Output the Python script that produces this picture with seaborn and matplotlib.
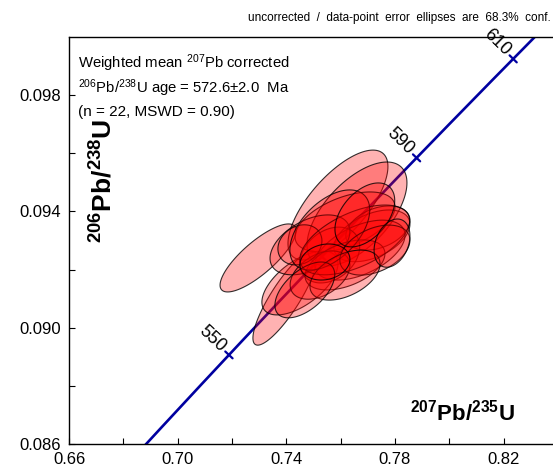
import numpy as np
import matplotlib
matplotlib.use("Agg")
import matplotlib.pyplot as plt
import seaborn as sns

# 同位素比值数据点 (207Pb/235U, 206Pb/238U), 误差椭圆半宽和相关系数
x_ratio = [0.7296, 0.7395, 0.7450, 0.7590, 0.7660, 0.7616, 0.7715, 0.7737,
           0.7671, 0.7560, 0.7487, 0.7616, 0.7524, 0.7450, 0.7652, 0.7560,
           0.7726, 0.7616, 0.7468, 0.7689, 0.7789, 0.7542]
y_ratio = [0.09240, 0.09102, 0.09154, 0.09422, 0.09391, 0.09364, 0.09316, 0.09343,
           0.09267, 0.09250, 0.09285, 0.09216, 0.09181, 0.09285, 0.09302, 0.09336,
           0.09267, 0.09181, 0.09130, 0.09388, 0.09291, 0.09226]
x_err = [0.0140, 0.0118, 0.0140, 0.0184, 0.0184, 0.0184, 0.0140, 0.0118,
         0.0166, 0.0110, 0.0147, 0.0147, 0.0110, 0.0081, 0.0202, 0.0147,
         0.0129, 0.0129, 0.0110, 0.0110, 0.0066, 0.0092]
y_err = [0.00117, 0.00162, 0.00110, 0.00189, 0.00179, 0.00103, 0.00089, 0.00076,
         0.00103, 0.00096, 0.00103, 0.00086, 0.00083, 0.00069, 0.00120, 0.00138,
         0.00086, 0.00086, 0.00096, 0.00110, 0.00083, 0.00062]
rho = [0.80, 0.85, 0.60, 0.70, 0.60, 0.50, 0.45, 0.35, 0.50, 0.30, 0.45,
       0.45, 0.40, 0.20, 0.55, 0.50, 0.40, 0.45, 0.55, 0.45, 0.30, 0.15]

# 谐和线参数
lam238 = 1.55125e-10
lam235 = 9.8485e-10
age_ticks = [550, 570, 590, 610]
age_labels = [550, 590, 610]

x_ticks = [0.66, 0.70, 0.74, 0.78, 0.82]
y_ticks = [0.086, 0.090, 0.094, 0.098]

sns.set_style("ticks")
plt.rcParams['font.family'] = ['Liberation Sans', 'DejaVu Sans']
plt.rcParams['mathtext.default'] = 'regular'
for k in ['text.color', 'axes.labelcolor', 'xtick.color', 'ytick.color', 'axes.edgecolor']:
    plt.rcParams[k] = 'black'

fig = plt.figure(figsize=(5.53, 4.70), dpi=100)
ax = fig.add_axes([69 / 553, 26 / 470, 489 / 553, 407 / 470])
ax.set_xlim(0.66, 0.84)
ax.set_ylim(0.086, 0.100)

# 谐和线
t = np.linspace(520, 630, 300) * 1e6
cx = np.exp(lam235 * t) - 1
cy = np.exp(lam238 * t) - 1
sns.lineplot(x=cx, y=cy, sort=False, color='#0000a0', lw=1.9, ax=ax, zorder=1)

# 年龄刻度
to_px = ax.transData
to_data = ax.transData.inverted()
for age in age_ticks:
    a = age * 1e6
    p = to_px.transform((np.exp(lam235 * a) - 1, np.exp(lam238 * a) - 1))
    p2 = to_px.transform((np.exp(lam235 * (a + 1e6)) - 1, np.exp(lam238 * (a + 1e6)) - 1))
    d = (p2 - p) / np.hypot(*(p2 - p))
    n = np.array([-d[1], d[0]])
    seg = to_data.transform(np.array([p - 5 * n, p + 5 * n]))
    ax.plot(seg[:, 0], seg[:, 1], color='#0000a0', lw=1.6, zorder=1)
    if age in age_labels:
        lp = to_data.transform(p + 8 * n)
        ang = np.degrees(np.arctan2(n[1], n[0])) - 180
        ax.text(lp[0], lp[1], str(age), rotation=ang, rotation_mode='anchor',
                ha='right', va='center', fontsize=13, zorder=1)

# 误差椭圆
th = np.linspace(0, 2 * np.pi, 120)
for i in range(len(x_ratio)):
    ex = x_ratio[i] + x_err[i] * np.cos(th)
    ey = y_ratio[i] + y_err[i] * (rho[i] * np.cos(th) + np.sqrt(1 - rho[i] ** 2) * np.sin(th))
    ax.fill(ex, ey, facecolor=(1, 0, 0, 0.3), edgecolor=(0, 0, 0, 0.8), lw=0.8, zorder=3)

ax.set_xticks(x_ticks)
ax.set_xticklabels([f"{v:.2f}" for v in x_ticks])
ax.set_xticks([0.68, 0.72, 0.76, 0.80, 0.84], minor=True)
ax.set_yticks(y_ticks)
ax.set_yticklabels([f"{v:.3f}" for v in y_ticks])
ax.set_yticks([0.088, 0.092, 0.096], minor=True)
ax.tick_params(which='both', direction='in', length=4, width=0.8, labelsize=12, pad=6)
for s in ax.spines.values():
    s.set_linewidth(1.0)

ax.text(0.912, 0.078, r"$^{207}$Pb/$^{235}$U", transform=ax.transAxes, ha='right',
        va='center', fontsize=16, fontweight='bold')
ax.text(0.07, 0.645, r"$^{206}$Pb/$^{238}$U", transform=ax.transAxes, ha='center',
        va='center', rotation=90, fontsize=19, fontweight='bold')

fig.text(78 / 553, 1 - 63 / 470, r"Weighted mean $^{207}$Pb corrected", fontsize=10.7, va='center')
fig.text(78 / 553, 1 - 88 / 470, r"$^{206}$Pb/$^{238}$U age = 572.6±2.0  Ma", fontsize=10.7, va='center')
fig.text(78 / 553, 1 - 112 / 470, "(n = 22, MSWD = 0.90)", fontsize=11, va='center')
fig.text(551 / 553, 1 - 18 / 470, "uncorrected  /  data-point  error  ellipses  are  68.3%  conf.",
         fontsize=8.5, ha='right', va='center')

fig.savefig("out.png", dpi=100)
